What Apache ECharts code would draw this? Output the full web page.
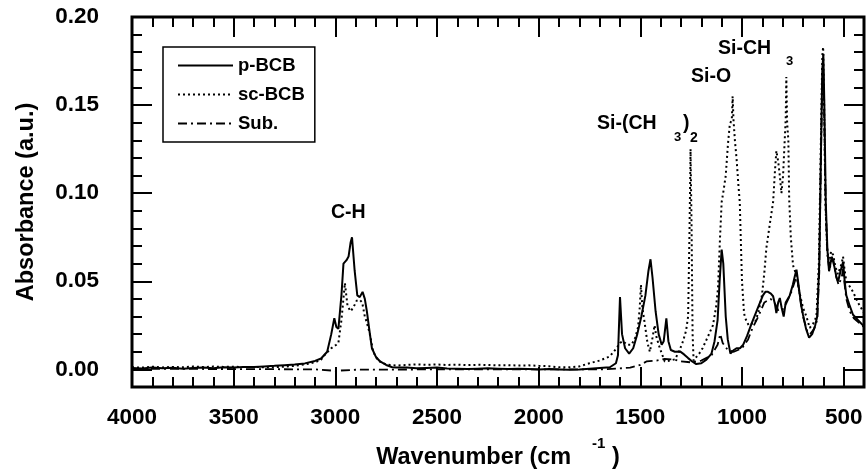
<!DOCTYPE html>
<html>
<head>
<meta charset="utf-8">
<script src="https://cdn.jsdelivr.net/npm/echarts@6/dist/echarts.min.js"></script>
<style>
html,body{margin:0;padding:0;background:#fff;}
#chart{width:868px;height:470px;}
</style>
</head>
<body>
<div id="chart"></div>
<script>
// ---- data: [wavenumber (cm-1), absorbance (a.u.)] ----
var pBCB = [[4000,0.0008],[3950,0.0005],[3900,0.0010],[3850,0.0006],[3800,0.0009],[3750,0.0004],[3700,0.0008],[3650,0.0011],[3600,0.0007],[3550,0.0012],[3500,0.0010],[3450,0.0014],[3400,0.0013],[3350,0.0017],[3300,0.0020],[3250,0.0024],[3200,0.0028],[3150,0.0034],[3100,0.0048],[3070,0.0062],[3040,0.0100],[3020,0.0200],[3005,0.0290],[2995,0.0240],[2985,0.0230],[2970,0.0420],[2960,0.0600],[2945,0.0620],[2935,0.0640],[2925,0.0720],[2918,0.0750],[2905,0.0560],[2892,0.0420],[2880,0.0410],[2866,0.0440],[2855,0.0400],[2845,0.0330],[2830,0.0200],[2820,0.0120],[2800,0.0070],[2780,0.0045],[2750,0.0025],[2720,0.0012],[2700,0.0010],[2650,0.0011],[2600,0.0006],[2550,0.0008],[2500,0.0010],[2450,0.0005],[2400,0.0004],[2350,0.0002],[2300,0.0004],[2250,0.0006],[2200,0.0004],[2150,0.0002],[2100,0.0003],[2050,0.0002],[2000,0.0000],[1950,0.0002],[1900,0.0000],[1850,-0.0002],[1800,0.0000],[1750,0.0004],[1700,0.0008],[1650,0.0012],[1620,0.0035],[1610,0.0080],[1600,0.0410],[1590,0.0200],[1575,0.0120],[1555,0.0090],[1535,0.0120],[1515,0.0200],[1495,0.0300],[1475,0.0420],[1460,0.0560],[1450,0.0625],[1440,0.0520],[1425,0.0330],[1410,0.0200],[1395,0.0140],[1385,0.0160],[1372,0.0290],[1362,0.0160],[1350,0.0110],[1330,0.0100],[1305,0.0102],[1285,0.0085],[1265,0.0064],[1245,0.0045],[1225,0.0030],[1200,0.0035],[1175,0.0055],[1150,0.0090],[1135,0.0160],[1120,0.0280],[1110,0.0500],[1100,0.0680],[1092,0.0600],[1080,0.0300],[1070,0.0170],[1057,0.0090],[1040,0.0110],[1027,0.0120],[1010,0.0120],[994,0.0140],[975,0.0190],[953,0.0260],[925,0.0340],[897,0.0420],[885,0.0440],[872,0.0440],[858,0.0430],[847,0.0415],[838,0.0370],[831,0.0320],[822,0.0380],[814,0.0405],[805,0.0350],[795,0.0300],[785,0.0380],[765,0.0420],[750,0.0480],[740,0.0530],[732,0.0566],[722,0.0480],[710,0.0370],[700,0.0310],[685,0.0230],[670,0.0180],[655,0.0200],[640,0.0250],[630,0.0300],[620,0.0600],[612,0.1200],[605,0.1700],[600,0.1790],[595,0.1500],[588,0.0950],[580,0.0680],[572,0.0557],[565,0.0600],[558,0.0640],[552,0.0650],[545,0.0580],[535,0.0520],[527,0.0500],[515,0.0560],[503,0.0610],[495,0.0500],[487,0.0420],[470,0.0360],[454,0.0310],[430,0.0280],[405,0.0250],[400,0.0245]];

var scBCB = [[4000,0.0012],[3950,0.0010],[3900,0.0015],[3850,0.0011],[3800,0.0014],[3750,0.0012],[3700,0.0016],[3650,0.0013],[3600,0.0016],[3550,0.0014],[3500,0.0015],[3450,0.0013],[3400,0.0014],[3350,0.0012],[3300,0.0013],[3250,0.0015],[3200,0.0020],[3150,0.0028],[3100,0.0040],[3070,0.0055],[3050,0.0085],[3020,0.0120],[2995,0.0140],[2985,0.0150],[2970,0.0280],[2953,0.0490],[2940,0.0360],[2925,0.0330],[2912,0.0350],[2895,0.0390],[2880,0.0395],[2868,0.0380],[2855,0.0300],[2846,0.0270],[2830,0.0200],[2814,0.0100],[2790,0.0050],[2750,0.0027],[2700,0.0022],[2650,0.0025],[2600,0.0028],[2550,0.0026],[2500,0.0028],[2450,0.0025],[2400,0.0027],[2350,0.0024],[2300,0.0026],[2250,0.0025],[2200,0.0023],[2150,0.0024],[2100,0.0022],[2050,0.0023],[2000,0.0020],[1950,0.0018],[1900,0.0012],[1850,0.0012],[1800,0.0017],[1750,0.0035],[1700,0.0050],[1650,0.0074],[1617,0.0120],[1600,0.0150],[1585,0.0160],[1565,0.0140],[1543,0.0140],[1525,0.0180],[1511,0.0240],[1503,0.0350],[1497,0.0480],[1490,0.0350],[1477,0.0250],[1465,0.0150],[1453,0.0100],[1440,0.0180],[1430,0.0250],[1420,0.0180],[1404,0.0120],[1380,0.0045],[1355,0.0050],[1330,0.0057],[1310,0.0100],[1290,0.0160],[1275,0.0220],[1265,0.0300],[1258,0.0800],[1253,0.1250],[1248,0.0800],[1243,0.0200],[1238,0.0050],[1225,0.0070],[1210,0.0090],[1194,0.0120],[1170,0.0180],[1143,0.0250],[1128,0.0350],[1118,0.0460],[1108,0.0750],[1100,0.0950],[1090,0.1020],[1080,0.1100],[1069,0.1280],[1060,0.1390],[1050,0.1420],[1046,0.1550],[1042,0.1420],[1035,0.1300],[1027,0.1200],[1018,0.1050],[1011,0.0950],[1005,0.0700],[1000,0.0500],[990,0.0320],[984,0.0290],[967,0.0250],[950,0.0260],[935,0.0270],[918,0.0330],[902,0.0420],[890,0.0550],[880,0.0690],[860,0.0850],[847,0.0950],[838,0.1125],[831,0.1240],[822,0.1180],[814,0.1100],[806,0.1000],[798,0.1100],[790,0.1300],[785,0.1420],[782,0.1660],[778,0.1400],[772,0.1300],[768,0.0970],[760,0.0750],[749,0.0590],[740,0.0560],[732,0.0540],[720,0.0450],[700,0.0350],[683,0.0300],[667,0.0235],[650,0.0260],[634,0.0300],[622,0.0600],[612,0.1300],[605,0.1780],[601,0.1830],[596,0.1500],[590,0.0950],[582,0.0700],[572,0.0600],[562,0.0670],[552,0.0650],[540,0.0580],[528,0.0540],[520,0.0540],[510,0.0600],[503,0.0640],[495,0.0560],[487,0.0500],[470,0.0470],[454,0.0440],[430,0.0380],[405,0.0330],[400,0.0320]];

var sub = [[4000,0.0003],[3500,0.0002],[3100,0.0000],[3000,-0.0008],[2900,-0.0002],[2500,0.0000],[2000,0.0000],[1700,0.0000],[1620,0.0004],[1550,0.0010],[1500,0.0025],[1470,0.0045],[1420,0.0050],[1380,0.0060],[1330,0.0055],[1300,0.0045],[1250,0.0040],[1200,0.0050],[1150,0.0080],[1120,0.0140],[1107,0.0200],[1095,0.0150],[1070,0.0110],[1040,0.0100],[1000,0.0120],[970,0.0170],[950,0.0230],[920,0.0300],[890,0.0380],[860,0.0400],[840,0.0380],[820,0.0330],[800,0.0340],[780,0.0380],[760,0.0430],[740,0.0500],[732,0.0540],[720,0.0450],[700,0.0300],[680,0.0220],[665,0.0200],[645,0.0230],[630,0.0280],[620,0.0550],[612,0.1200],[605,0.1650],[601,0.1750],[596,0.1450],[588,0.0900],[580,0.0650],[570,0.0560],[560,0.0620],[550,0.0620],[540,0.0540],[525,0.0480],[510,0.0520],[503,0.0570],[495,0.0480],[487,0.0400],[470,0.0330],[450,0.0290],[430,0.0270],[400,0.0240]];

// ---- axes / ticks ----
var xMajorTicks = [500,1000,1500,2000,2500,3000,3500,4000];
var xMinorTicks = [400,500,600,700,800,900,1000,1100,1200,1300,1400,1500,1600,1700,1800,1900,2000,2100,2200,2300,2400,2500,2600,2700,2800,2900,3000,3100,3200,3300,3400,3500,3600,3700,3800,3900,4000];
var yMajorTicks = [0,0.05,0.10,0.15,0.20];
var yMinorTicks = [-0.01,0,0.01,0.02,0.03,0.04,0.05,0.06,0.07,0.08,0.09,0.10,0.11,0.12,0.13,0.14,0.15,0.16,0.17,0.18,0.19,0.20];
var seriesNames = ['p-BCB','sc-BCB','Sub.'];

var FONT = '"Liberation Sans", Arial, Helvetica, sans-serif';
var chart = echarts.init(document.getElementById('chart'), null, {renderer:'canvas'});

function xAx(pos, ticks, len, labels){
  return {
    type:'value', inverse:true, min:400, max:4000, position:pos, gridIndex:0,
    axisLine:{show:false, onZero:false},
    splitLine:{show:false},
    axisTick:{show:true, inside:true, length:len, customValues:ticks, lineStyle:{color:'#000', width:2}},
    axisLabel:{show:!!labels, customValues:labels?ticks:undefined, margin:19,
      formatter:function(v){return String(v);},
      color:'#000', fontFamily:FONT, fontWeight:'bold', fontSize:22.5},
    name: labels ? '{a|Wavenumber (cm}{s|     -1}{a| )}' : '',
    nameLocation:'middle', nameGap:49,
    nameTextStyle:{ rich:{
      a:{fontFamily:FONT, fontWeight:'bold', fontSize:23.5, color:'#000', lineHeight:34, verticalAlign:'bottom'},
      s:{fontFamily:FONT, fontWeight:'bold', fontSize:15, color:'#000', lineHeight:34, verticalAlign:'top'}
    }}
  };
}
function yAx(pos, ticks, len, labels){
  return {
    type:'value', min:-0.01, max:0.20, position:pos, gridIndex:0,
    axisLine:{show:false, onZero:false},
    splitLine:{show:false},
    axisTick:{show:true, inside:true, length:len, customValues:ticks, lineStyle:{color:'#000', width:2}},
    axisLabel:{show:!!labels, customValues:labels?ticks:undefined, margin:33,
      formatter:function(v){return v.toFixed(2);},
      color:'#000', fontFamily:FONT, fontWeight:'bold', fontSize:22.5},
    name: labels ? 'Absorbance (a.u.)' : '',
    nameLocation:'middle', nameGap:93,
    nameTextStyle:{fontFamily:FONT, fontWeight:'bold', fontSize:23.5, color:'#000'}
  };
}

var option = {
  animation:false,
  backgroundColor:'#fff',
  grid:{left:132, top:17, right:4, bottom:83, show:true, borderColor:'#000', borderWidth:3,
        backgroundColor:'transparent', containLabel:false, outerBoundsMode:'none'},
  legend:{
    orient:'vertical', left:163, top:47,
    data:seriesNames,
    itemWidth:55, itemHeight:18, itemGap:10,
    padding:[9,10,9,14],
    borderColor:'#000', borderWidth:1.5,
    backgroundColor:'#fff',
    itemStyle:{opacity:0},
    textStyle:{fontFamily:FONT, fontWeight:'bold', fontSize:18.5, color:'#000'}
  },
  xAxis:[ xAx('bottom', xMajorTicks, 20, true), xAx('bottom', xMinorTicks, 10, false),
          xAx('top', xMajorTicks, 20, false), xAx('top', xMinorTicks, 10, false) ],
  yAxis:[ yAx('left', yMajorTicks, 20, true), yAx('left', yMinorTicks, 10, false),
          yAx('right', yMajorTicks, 20, false), yAx('right', yMinorTicks, 10, false) ],
  series:[
    {name:seriesNames[0], type:'line', data:pBCB, showSymbol:false, symbol:'none', symbolSize:0, z:5,
      lineStyle:{color:'#000', width:2, type:'solid'}, itemStyle:{color:'#000'}},
    {name:seriesNames[1], type:'line', data:scBCB, showSymbol:false, symbol:'none', symbolSize:0, z:4,
      lineStyle:{color:'#000', width:2, type:[2,3]}, itemStyle:{color:'#000'}},
    {name:seriesNames[2], type:'line', data:sub, showSymbol:false, symbol:'none', symbolSize:0, z:3,
      lineStyle:{color:'#000', width:1.8, type:[9,4,2,4]}, itemStyle:{color:'#000'}}
  ],
  graphic:[
    {type:'text', left:331, top:203, style:{text:'C-H', font:'bold 19.5px '+FONT, fill:'#000'}},
    {type:'text', left:597, top:114, style:{text:'Si-(CH', font:'bold 19.5px '+FONT, fill:'#000'}},
    {type:'text', left:674, top:131, style:{text:'3', font:'bold 13px '+FONT, fill:'#000'}},
    {type:'text', left:683, top:114, style:{text:')', font:'bold 19.5px '+FONT, fill:'#000'}},
    {type:'text', left:690, top:131, style:{text:'2', font:'bold 14px '+FONT, fill:'#000'}},
    {type:'text', left:691, top:67, style:{text:'Si-O', font:'bold 19.5px '+FONT, fill:'#000'}},
    {type:'text', left:718, top:39, style:{text:'Si-CH', font:'bold 19.5px '+FONT, fill:'#000'}},
    {type:'text', left:786, top:55, style:{text:'3', font:'bold 13px '+FONT, fill:'#000'}}
  ]
};
chart.setOption(option);
</script>
</body>
</html>
